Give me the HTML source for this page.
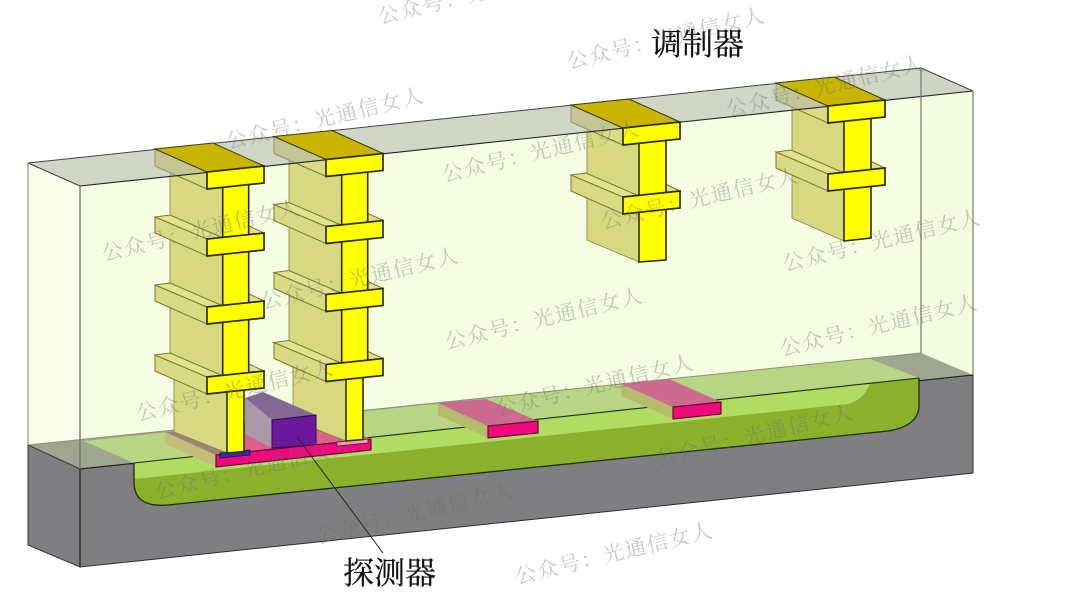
<!DOCTYPE html>
<html lang="zh"><head><meta charset="utf-8"><title>调制器与探测器</title>
<style>
html,body{margin:0;padding:0;background:#fff;width:1080px;height:607px;overflow:hidden}
svg{display:block;filter:blur(.35px)}
.wm{font-family:"Liberation Serif","Noto Serif CJK SC",serif;font-size:21px;letter-spacing:1.6px;fill:#6e6e6e;fill-opacity:.38}
.lb{font-family:"Liberation Serif","Noto Serif CJK SC",serif;font-size:31px;fill:#111;stroke:#111;stroke-width:.25}
.s{fill:#dada84;stroke:#7a7a30;stroke-width:1}
.t{fill:#e2e28e;stroke:#7a7a30;stroke-width:1}
.f{fill:#ffff00;stroke:#2e2e04;stroke-width:1.7}
.w{fill:#d8d880;stroke:#85853c;stroke-width:.8}
.st{fill:#ffff00;stroke:#2e2e04;stroke-width:1.6}
</style></head><body>
<svg width="1080" height="607" viewBox="0 0 1080 607" xmlns="http://www.w3.org/2000/svg">
<defs>
<g id="slab">
<polygon class="s" points="155,217 207,239 207,256 155,233"/>
<polygon class="t" points="155,217 170,215 222,237.5 207,239"/>
<polygon class="t" points="249,226 264,233 249,235"/>
</g>
<polygon id="slabf" class="f" points="207,239 264,233 264,250 207,256"/>
<g id="cap">
<polygon class="s" points="155,149 207,172 207,189 155,166"/>
</g>
<g id="capt">
<polygon points="155,149 213,143 264,166 207,172" fill="#c9b400" stroke="#3c3c08" stroke-width="1"/>
<polygon class="f" points="207,172 264,166 264,183 207,189"/>
</g>
</defs>
<rect width="1080" height="607" fill="#fff"/>

<!-- box pale body -->
<polygon points="28,163 921,68 973,91 973,375 80,469 28,445" fill="#f5fde2"/>
<polygon points="28,163 80,186 80,469 28,445" fill="#fbfdeb"/>
<polygon points="921,68 973,91 973,375 921,353" fill="#f3fbe0"/>

<!-- bottom top-surface -->
<polygon points="28,445 921,353 973,375 80,469" fill="#a0a590"/>
<polygon points="84,441 868,358 919,378 134,463" fill="#b8d585"/>
<line x1="28" y1="445" x2="921" y2="353" stroke="#8a9470" stroke-width="1"/>

<!-- front gray -->
<polygon points="80,469 973,375 973,473 80,567" fill="#7f7f81" stroke="#2e2e2e" stroke-width="1"/>
<polygon points="28,445 80,469 80,567 28,545" fill="#7f7f81" stroke="#3a3a3a" stroke-width="1"/>
<line x1="80" y1="469" x2="973" y2="375" stroke="#222" stroke-width="1.1"/>

<!-- trench -->
<path d="M134,463 L919,378 L919,405 Q919,426 888,431 L168,505 Q134,508 134,482 Z" fill="#b1dc62"/>
<path d="M134,479 L848,404 Q864,400 870,383 L919,378 L919,405 Q919,426 888,431 L168,505 Q134,508 134,482 Z" fill="#8ab02c"/>
<path d="M134,463 L134,482 Q134,508 168,505 L888,431 Q919,426 919,405 L919,378" fill="none" stroke="#1f3008" stroke-width="1.3"/>
<line x1="134" y1="463" x2="919" y2="378" stroke="#1f3008" stroke-width="1.1"/>

<!-- modulator pads -->
<polygon points="438,403 488,426 488,438 438,415" fill="#b4bc6c"/>
<polygon points="438,403 486,399 538,421 488,426" fill="#cc6a90"/>
<polygon points="488,426 538,421 538,433 488,438" fill="#f0087c" stroke="#5a1030" stroke-width="1.2"/>
<polygon points="621,384 673,407 673,419 621,396" fill="#b4bc6c"/>
<polygon points="621,384 669,379 721,402 673,407" fill="#cc6a90"/>
<polygon points="673,407 721,402 721,414 673,419" fill="#f0087c" stroke="#5a1030" stroke-width="1.2"/>

<!-- detector slab -->
<polygon points="216,455 371,439 320,416 170,432" fill="#e0608c"/>
<polygon points="165,432 216,455 216,467 165,444" fill="#c4bc78"/>
<polygon points="165,432 178,431 228,453 216,455" fill="#9a8478"/>

<!-- walls -->
<polygon class="w" points="170,150 223,172 223,380 170,365"/>
<polygon class="w" points="174,372 227,385 227,453 174,432"/>
<polygon class="w" points="289,137 342,160 342,368 289,352"/>
<polygon class="w" points="293,358 346,372 346,441 293,420"/>
<polygon class="w" points="587,106 639,128 639,262 587,240"/>
<polygon class="w" points="792,84 844,106 844,241 792,218"/>

<!-- purple box -->
<polygon points="245,398 272,420 272,448 245,434" fill="#aa98a8"/>
<polygon points="245,398 263,392 316,415 272,420" fill="#84688f"/>
<polygon points="272,420 316,415 316,445 272,448" fill="#6a189c" stroke="#2a0a50" stroke-width="1"/>

<!-- pink front -->
<polygon points="216,455 371,439 371,450 216,467" fill="#f0087c" stroke="#5a1030" stroke-width="1.2"/>
<polygon points="220,453 250,450 250,455 220,458" fill="#3a2aa0" stroke="#2a0a50" stroke-width=".8"/>
<polygon points="337,442 368,439 368,443 337,446" fill="#e8a4b4" stroke="#5a1030" stroke-width=".8"/>

<!-- slab sides/tops -->
<use href="#cap"/><use href="#slab"/><use href="#slab" y="68"/><use href="#slab" y="138"/>
<use href="#cap" x="119" y="-12.5"/><use href="#slab" x="119" y="-12.5"/><use href="#slab" x="119" y="55.5"/><use href="#slab" x="119" y="125.5"/>
<use href="#cap" x="416" y="-44"/><use href="#slab" x="416" y="-42"/>
<use href="#cap" x="621" y="-66"/><use href="#slab" x="621" y="-65"/>

<!-- stems -->
<polygon class="st" points="222.7,180 248.7,178 248.7,380 222.7,382"/>
<polygon class="st" points="227,380 244,378 244,451.5 227,453"/>
<polygon class="st" points="341.7,168 367.7,166 367.7,368 341.7,370"/>
<polygon class="st" points="346,366 363,364 363,439.5 346,441"/>
<polygon class="st" points="639,136 666,134 666,260 639,262"/>
<polygon class="st" points="844,115 871,113 871,238 844,241"/>

<!-- box top overlay -->
<polygon points="28,163 921,68 973,91 80,186" fill="#acb0a8" fill-opacity=".5"/>
<line x1="28" y1="163" x2="921" y2="68" stroke="#444" stroke-width="1"/>
<line x1="80" y1="186" x2="973" y2="91" stroke="#222" stroke-width="1.1"/>
<line x1="28" y1="163" x2="80" y2="186" stroke="#444" stroke-width="1"/>
<line x1="921" y1="68" x2="973" y2="91" stroke="#444" stroke-width="1"/>

<!-- slab fronts -->
<use href="#capt"/><use href="#slabf"/><use href="#slabf" y="68"/><use href="#slabf" y="138"/>
<use href="#capt" x="119" y="-12.5"/><use href="#slabf" x="119" y="-12.5"/><use href="#slabf" x="119" y="55.5"/><use href="#slabf" x="119" y="125.5"/>
<use href="#capt" x="416" y="-44"/><use href="#slabf" x="416" y="-42"/>
<use href="#capt" x="621" y="-66"/><use href="#slabf" x="621" y="-65"/>

<!-- box verticals -->
<line x1="28" y1="163" x2="28" y2="445" stroke="#8a8f80" stroke-width="1.1"/>
<line x1="80" y1="186" x2="80" y2="469" stroke="#6e7266" stroke-width="1.3"/>
<line x1="80" y1="469" x2="80" y2="567" stroke="#2a2a2a" stroke-width="1.4"/>
<line x1="921" y1="68" x2="921" y2="353" stroke="#7c8274" stroke-width="1.3"/>
<line x1="973" y1="91" x2="973" y2="375" stroke="#6e7266" stroke-width="1.1"/>

<!-- leader -->
<line x1="297" y1="437" x2="383" y2="553" stroke="#222" stroke-width="1"/>

<!-- labels -->
<text class="lb" x="651" y="55">调制器</text>
<text class="lb" x="343" y="584">探测器</text>

<!-- watermarks -->
<g class="wm">
<text transform="translate(380,24) rotate(-13.5)">公众号：光通信女人</text>
<text transform="translate(569,69) rotate(-13.5)">公众号：光通信女人</text>
<text transform="translate(228,149) rotate(-13.5)">公众号：光通信女人</text>
<text transform="translate(728,117) rotate(-13.5)">公众号：光通信女人</text>
<text transform="translate(444,182) rotate(-13.5)">公众号：光通信女人</text>
<text transform="translate(104,261) rotate(-13.5)">公众号：光通信女人</text>
<text transform="translate(603,229) rotate(-13.5)">公众号：光通信女人</text>
<text transform="translate(785,271) rotate(-13.5)">公众号：光通信女人</text>
<text transform="translate(263,309) rotate(-13.5)">公众号：光通信女人</text>
<text transform="translate(447,349) rotate(-13.5)">公众号：光通信女人</text>
<text transform="translate(782,356) rotate(-13.5)">公众号：光通信女人</text>
<text transform="translate(138,421) rotate(-13.5)">公众号：光通信女人</text>
<text transform="translate(498,416) rotate(-13.5)">公众号：光通信女人</text>
<text transform="translate(658,466) rotate(-13.5)">公众号：光通信女人</text>
<text transform="translate(157,499) rotate(-13.5)">公众号：光通信女人</text>
<text transform="translate(318,544) rotate(-13.5)">公众号：光通信女人</text>
<text transform="translate(517,584) rotate(-13.5)">公众号：光通信女人</text>
</g>
</svg>
</body></html>
